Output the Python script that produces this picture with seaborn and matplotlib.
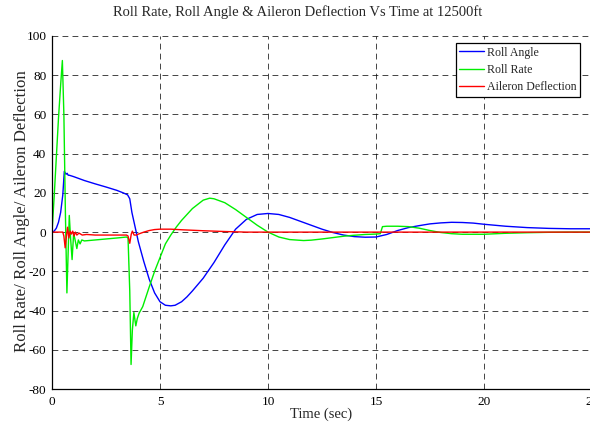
import matplotlib
matplotlib.use("Agg")
import matplotlib.pyplot as plt
import seaborn as sns

# ---- data ----
t_angle = [0, 0.1, 0.2, 0.3, 0.4, 0.5, 0.57, 0.65, 0.7, 0.75, 0.8, 1.0, 1.5, 2.0, 2.5, 3.0, 3.3,
           3.5, 3.6, 3.7, 3.85, 4.0, 4.25, 4.5, 4.75, 5.0, 5.25, 5.5, 5.7, 6.0, 6.25, 6.5, 7.0,
           7.5, 8.0, 8.5, 9.0, 9.5, 10.0, 10.5, 11.0, 11.5, 12.0, 12.5, 13.0, 13.5, 14.0, 14.5,
           15.0, 15.5, 16.0, 16.5, 17.0, 17.5, 18.0, 18.5, 19.0, 19.5, 20.0, 21.0, 22.0, 23.0,
           24.0, 25.0]
roll_angle = [0, 0.5, 2, 5, 10, 19, 31, 29.5, 30, 29, 29, 28.3, 26.3, 24.6, 23, 21.3, 20,
              19, 17, 10, 2.5, -5, -15, -24, -31, -35.5, -37.3, -37.6, -37.3, -35.5, -33, -30, -23.5,
              -15.5, -6.5, 1.5, 6.5, 9, 9.5, 9.0, 7.5, 5.5, 3.5, 1.5, -0.2, -1.5, -2.3, -2.6,
              -2.5, -1.2, 0.8, 2.3, 3.3, 4.2, 4.7, 5.0, 4.9, 4.6, 4.0, 3.0, 2.3, 1.9,
              1.7, 1.7]

t_rate = [0, 0.1, 0.2, 0.3, 0.4, 0.48, 0.55, 0.62, 0.69, 0.8, 0.86, 0.93, 1.0, 1.05, 1.15,
          1.22, 1.3, 1.38, 1.5, 2.0, 2.5, 3.0, 3.45, 3.52, 3.6, 3.66, 3.72, 3.79, 3.88, 3.95,
          4.03, 4.2, 4.5, 4.75, 5.0, 5.25, 5.5, 5.75, 6.0, 6.5, 7.0, 7.3, 7.5, 8.0, 8.5, 9.0,
          9.5, 10.0, 10.5, 11.0, 11.65, 12.0, 12.5, 13.0, 13.5, 14.0, 14.5, 15.0, 15.2, 15.3,
          15.5, 16.0, 16.5, 17.0, 17.5, 18.0, 18.5, 19.0, 20.0, 21.0, 22.0, 23.0, 24.0, 25.0]
roll_rate = [0, 18, 38, 58, 75, 87.5, 60, 10, -31, 8.5, -3, -14, -1, -3, -8.4,
             -4, -6, -4, -4.5, -4, -3.5, -3, -2.5, -3, -30, -67.5, -50, -41, -47.8, -44,
             -41.4, -38, -28, -20, -13, -6, -1.5, 2.5, 6, 12, 16.3, 17.3, 17, 15, 11.5, 7.5,
             3.5, 0, -2.5, -3.8, -4.3, -4.1, -3.5, -2.8, -2.1, -1.6, -1.2, -1, -0.8, 2.8,
             3, 3, 2.8, 2.0, 0.8, -0.2, -0.8, -1.1, -1.1, -0.6, -0.3, -0.1, 0, 0]

t_aileron = [0, 0.5, 0.55, 0.61, 0.67, 0.72, 0.78, 0.84, 0.9, 0.96, 1.02, 1.08, 1.15, 1.25,
             1.4, 1.6, 2.0, 2.5, 3.0, 3.45, 3.52, 3.6, 3.67, 3.72, 3.8, 3.9, 4.0, 4.25, 4.5,
             4.75, 5.0, 5.5, 6.0, 7.0, 8.0, 9.0, 10.0, 25.0]
aileron = [0, 0, -2, -8, -2, 2.5, -3, 0.5, -1, 0.5, -2, 0, -1.5, -0.5,
           -1.5, -1.2, -1.5, -1.5, -1.5, -1.5, -2, -5.7, -1, 0.5, -1.5, -1.5, -1, 0, 0.8,
           1.3, 1.5, 1.5, 1.2, 0.7, 0.3, 0, 0, 0]

x_ticks = [0, 5, 10, 15, 20, 25]
y_ticks = [-80, -60, -40, -20, 0, 20, 40, 60, 80, 100]

title = "Roll Rate, Roll Angle & Aileron Deflection Vs Time at 12500ft"
xlabel = "Time (sec)"
ylabel = "Roll Rate/ Roll Angle/ Aileron Deflection"

# ---- styling ----
sns.set_theme(style="white")
plt.rcParams["font.family"] = ["Liberation Serif", "DejaVu Serif"]
plt.rcParams["axes.unicode_minus"] = False

fig = plt.figure(figsize=(5.9, 4.23), dpi=100)
W, H = 590, 423
L, R, T, B = 52, 592, 36, 389
ax = fig.add_axes([L / W, 1 - B / H, (R - L) / W, (B - T) / H])

sns.lineplot(x=t_angle, y=roll_angle, ax=ax, color="#0000ff", lw=1.0,
             label="Roll Angle", estimator=None, sort=False)
sns.lineplot(x=t_rate, y=roll_rate, ax=ax, color="#00ee00", lw=1.0,
             label="Roll Rate", estimator=None, sort=False)
sns.lineplot(x=t_aileron, y=aileron, ax=ax, color="#ff0000", lw=1.0,
             label="Aileron Deflection", estimator=None, sort=False)

ax.set_xlim(0, 25)
ax.set_ylim(-80, 100)
ax.set_xticks(x_ticks)
ax.set_yticks(y_ticks)
ax.set_xticklabels([str(v) for v in x_ticks])
ax.set_yticklabels([str(v) for v in y_ticks])
ax.tick_params(axis="both", direction="in", length=4, width=0.8, colors="black",
               labelsize=9.5, pad=4)
ax.tick_params(axis="x", pad=5)

ax.grid(True, color="black", linestyle=(0, (7, 5)), linewidth=0.6, alpha=0.85)
ax.set_axisbelow(True)
for s in ["top", "right"]:
    ax.spines[s].set_visible(False)
for s in ["left", "bottom"]:
    ax.spines[s].set_color("black")
    ax.spines[s].set_linewidth(0.9)
ax.set_xlabel("")
ax.set_ylabel("")

leg = ax.legend(loc="upper right", bbox_to_anchor=((580 - L) / (R - L), (B - 43) / (B - T)),
                borderaxespad=0, fontsize=8.6, frameon=True, fancybox=False,
                edgecolor="black", framealpha=1, handlelength=2.1, handletextpad=0.2,
                borderpad=0.3, labelspacing=0.45)
leg.get_frame().set_linewidth(0.9)

fig.text(297.5 / W, 1 - 12 / H, title, ha="center", va="center", fontsize=10.5)
fig.text(321 / W, 1 - 414 / H, xlabel, ha="center", va="center", fontsize=10.5)
fig.text(22 / W, 1 - 211 / H, ylabel, ha="center", va="center", rotation=90, fontsize=12.2)

fig.savefig("out.png", dpi=100)
